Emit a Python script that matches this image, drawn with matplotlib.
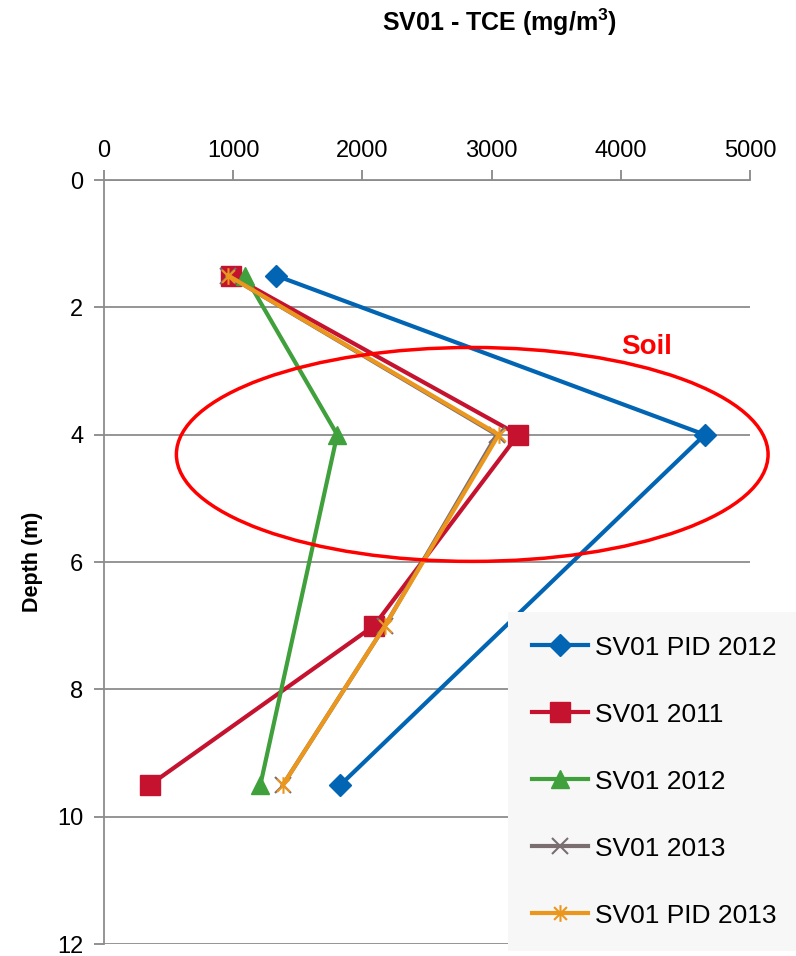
import matplotlib
matplotlib.use('Agg')
import matplotlib.pyplot as plt
from matplotlib.patches import Ellipse
from matplotlib.path import Path

plt.rcParams['font.family'] = ['Liberation Sans', 'DejaVu Sans']

# Depth (m) and TCE concentration (mg/m3)
depth_pid2012 = [1.5, 4, 9.5]
tce_pid2012 = [1330, 4650, 1830]
depth_2011 = [1.5, 4, 7, 9.5]
tce_2011 = [985, 3205, 2090, 355]
depth_2012 = [1.5, 4, 9.5]
tce_2012 = [1090, 1805, 1210]
depth_2013 = [1.5, 4, 7, 9.5]
tce_2013 = [960, 3040, 2175, 1385]
depth_pid2013 = [1.5, 4, 7, 9.5]
tce_pid2013 = [960, 3055, 2175, 1385]

labels = ['SV01 PID 2012', 'SV01 2011', 'SV01 2012', 'SV01 2013', 'SV01 PID 2013']
x_ticks = [0, 1000, 2000, 3000, 4000, 5000]
y_ticks = [0, 2, 4, 6, 8, 10, 12]

# Excel-style star marker: an x with a vertical stroke
star = Path([(-1, -1), (1, 1), (-1, 1), (1, -1), (0, -1.3), (0, 1.3)],
            [Path.MOVETO, Path.LINETO, Path.MOVETO, Path.LINETO, Path.MOVETO, Path.LINETO])

fig = plt.figure(figsize=(7.96, 9.56), dpi=100)
ax = fig.add_axes([0.1307, 0.0125, 0.8115, 0.7992])

ax.plot(tce_pid2012, depth_pid2012, color='#0265B4', lw=3, marker='D', ms=11, label=labels[0])
ax.plot(tce_2011, depth_2011, color='#C4122F', lw=3, marker='s', ms=14, label=labels[1])
ax.plot(tce_2012, depth_2012, color='#3FA03C', lw=3, marker='^', ms=13, label=labels[2])
ax.plot(tce_2013, depth_2013, color='#7A6E70', lw=3, marker='x', ms=11, mew=1.5, label=labels[3])
ax.plot(tce_pid2013, depth_pid2013, color='#EB961C', lw=3, marker=star, ms=12, mew=1.5,
        mfc='none', label=labels[4])

# Soil zone
ax.add_patch(Ellipse((2850, 4.31), 4580, 3.36, fill=False, edgecolor='#FF0000', lw=2.5,
                     zorder=5, clip_on=False))
ax.text(4200, 2.63, 'Soil', color='#FF0000', fontsize=20, fontweight='bold',
        ha='center', va='center')

ax.set_xlim(0, 5000)
ax.set_ylim(12, 0)
ax.set_xticks(x_ticks)
ax.set_yticks(y_ticks)
ax.xaxis.tick_top()
ax.tick_params(axis='both', labelsize=17, color='#888888', width=1.3, length=7, direction='out')
ax.tick_params(axis='x', pad=6)
ax.tick_params(axis='y', pad=8)
ax.grid(axis='y', color='#8C8C8C', lw=1.3)
ax.set_axisbelow(True)
for s in ['right', 'bottom']:
    ax.spines[s].set_visible(False)
for s in ['left', 'top']:
    ax.spines[s].set_color('#8C8C8C')
    ax.spines[s].set_linewidth(1.3)
ax.set_ylabel('Depth (m)', fontsize=15.5, fontweight='bold', labelpad=10)

fig.text(0.628, 0.977, 'SV01 - TCE (mg/m$^\\mathregular{3}$)', fontsize=18, fontweight='bold',
         ha='center', va='center')

leg = ax.legend(loc='upper left', bbox_to_anchor=(0.638, 0.36), bbox_transform=fig.transFigure,
                fontsize=19, frameon=True, fancybox=False, edgecolor='none',
                facecolor='#F7F7F7', framealpha=1, labelspacing=1.63, handlelength=2.15,
                handletextpad=0.27, borderpad=0.9, borderaxespad=0)
leg.set_zorder(10)

fig.savefig('out.png', dpi=100)
